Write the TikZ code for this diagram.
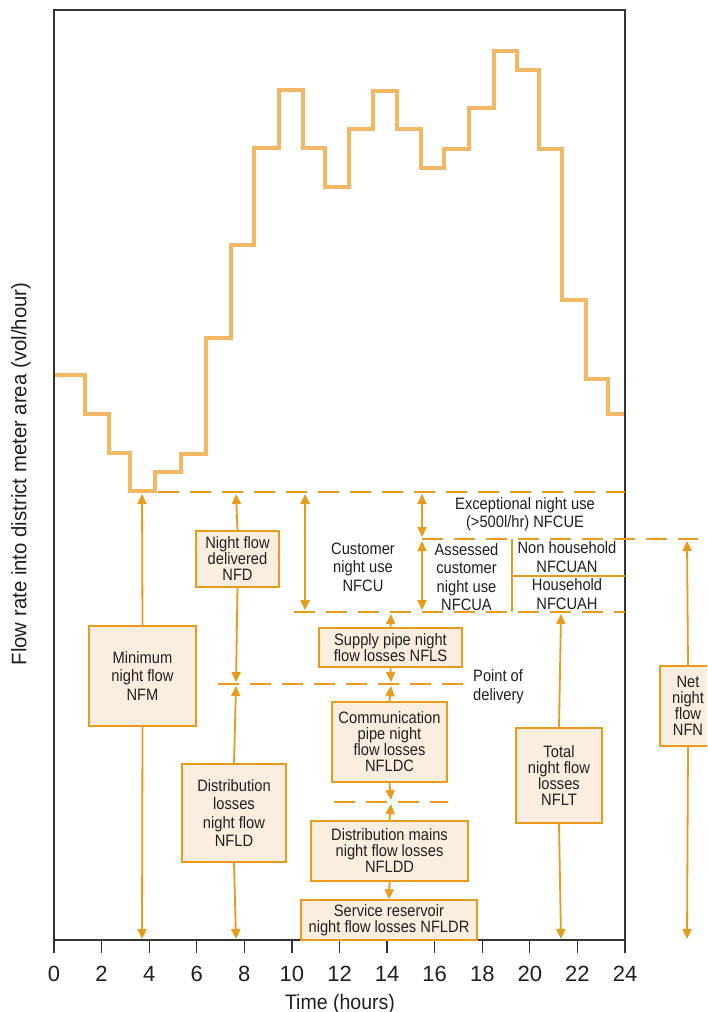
\documentclass[tikz,border=0pt]{standalone}
\usepackage{fontspec}
\setmainfont{Liberation Sans}
\newfontfamily\condfont{Liberation Sans}[FakeStretch=0.89]
\newfontfamily\timefont{Liberation Sans}[FakeStretch=0.93]
\newfontfamily\yfont{Liberation Sans}[FakeStretch=0.97]
\usetikzlibrary{arrows.meta}
\definecolor{curveC}{HTML}{F2B866}
\definecolor{arrC}{HTML}{E99B1C}
\definecolor{boxF}{HTML}{FCEEDF}
\definecolor{txtC}{HTML}{231F20}
\definecolor{frameC}{HTML}{333333}
\tikzset{
  curve/.style={draw=curveC, line width=4pt, line join=miter},
  arr/.style={draw=arrC, line width=1.8pt, -{Triangle[length=10pt,width=9pt]}},
  darr/.style={draw=arrC, line width=1.8pt, {Triangle[length=10pt,width=9pt]}-{Triangle[length=10pt,width=9pt]}},
  dline/.style={draw=arrC, line width=2pt, dash pattern=on 20.5pt off 11.5pt},
  sline/.style={draw=arrC, line width=1.5pt},
  frame/.style={draw=frameC, line width=1.3pt},
  lbl/.style={text=txtC, font=\condfont\fontsize{16.5}{16}\selectfont, align=center, inner sep=0pt},
  lblw/.style={text=txtC, font=\condfont\fontsize{16.5}{18.5}\selectfont, align=center, inner sep=0pt},
  bx/.style={lbl, draw=arrC, line width=1.5pt, fill=boxF},
  bxw/.style={lblw, draw=arrC, line width=1.5pt, fill=boxF},
  ticklbl/.style={text=txtC, font=\fontsize{22}{22}\selectfont, anchor=base, inner sep=0pt}
}
\begin{document}
\begin{tikzpicture}[x=1pt,y=-1pt]
\useasboundingbox (0,0) rectangle (707,1012);
\clip (0,0) rectangle (707,1012);
\fill[white] (0,0) rectangle (707,1012);

% demand curve
\draw[curve] (54,375) -- (85,375) -- (85,414) -- (109,414) -- (109,453) -- (130,453) -- (130,491)
  -- (155,491) -- (155,472) -- (181,472) -- (181,454) -- (206,454) -- (206,338) -- (231,338)
  -- (231,245) -- (254,245) -- (254,148) -- (279,148) -- (279,90) -- (303,90) -- (303,148)
  -- (325,148) -- (325,187) -- (349,187) -- (349,129) -- (373,129) -- (373,91) -- (397,91)
  -- (397,129) -- (421,129) -- (421,168) -- (444,168) -- (444,149) -- (469,149) -- (469,108)
  -- (494,108) -- (494,51) -- (517,51) -- (517,70) -- (539,70) -- (539,149) -- (562,149)
  -- (562,300) -- (586,300) -- (586,379) -- (608,379) -- (608,414) -- (625,414);

% frame and axis
\draw[frame] (54,10) rectangle (625,940);
\foreach \h in {0,2,...,24}{
  \draw[frame] ({54+\h*23.7917},940) -- ++(0,13);
  \node[ticklbl] (t\h) at ({54+\h*23.7917},981) {\h};
}
\node[text=txtC, font=\timefont\fontsize{21}{21}\selectfont, anchor=base, inner sep=0pt] (xlab) at (340,1009) {Time (hours)};
\node[text=txtC, font=\yfont\fontsize{21}{21}\selectfont, rotate=90, inner sep=0pt] (ylab) at (21,474) {Flow rate into district meter area (vol/hour)};

% dashed reference lines
\coordinate (a1) at (158,492); \coordinate (a2) at (625,492);
\coordinate (b1) at (422,539); \coordinate (b2) at (698,539);
\coordinate (c1) at (294,612); \coordinate (c2) at (625,612);
\coordinate (d1) at (218,684); \coordinate (d2) at (463,684);
\coordinate (e1) at (334,802); \coordinate (e2) at (448,802);
\draw[dline] (a1) -- (a2);
\draw[dline] (b1) -- (b2);
\draw[dline] (c1) -- (c2);
\draw[dline] (d1) -- (d2);
\draw[dline] (e1) -- (e2);

% solid dividers
\coordinate (v1) at (512,539); \coordinate (v2) at (512,612);
\coordinate (h1) at (512,576); \coordinate (h2) at (625,576);
\draw[sline] (v1) -- (v2);
\draw[sline] (h1) -- (h2);

% boxes
\node[bxw, minimum width=107pt, minimum height=100pt] (nfm) at (142.5,676) {Minimum\\night flow\\NFM};
\node[bx, minimum width=83pt, minimum height=56pt] (nfd) at (237.5,559) {Night flow\\delivered\\NFD};
\node[bxw, minimum width=104pt, minimum height=98pt] (nfld) at (234,813) {Distribution\\losses\\night flow\\NFLD};
\node[bx, minimum width=143pt, minimum height=39pt] (nfls) at (390.5,647.5) {Supply pipe night\\flow losses NFLS};
\node[bx, minimum width=115pt, minimum height=80pt] (nfldc) at (389.5,742) {Communication\\pipe night\\flow losses\\NFLDC};
\node[bx, minimum width=157pt, minimum height=60pt] (nfldd) at (389.5,851) {Distribution mains\\night flow losses\\NFLDD};
\node[bx, minimum width=176pt, minimum height=40pt] (nfldr) at (389,920) {Service reservoir\\night flow losses NFLDR};
\node[bx, minimum width=86pt, minimum height=95pt] (nflt) at (559,775.5) {Total\\night flow\\losses\\NFLT};
\node[bx, minimum width=56pt, minimum height=80pt] (nfn) at (688,706) {Net\\night\\flow\\NFN};

% free labels
\node[lblw] (nfcu) at (363,567) {Customer\\night use\\NFCU};
\node[lbl, font=\condfont\fontsize{16.5}{18}\selectfont] (nfcue) at (525,514) {Exceptional night use\\(>500l/hr) NFCUE};
\node[lblw] (nfcua) at (466.5,577) {Assessed\\customer\\night use\\NFCUA};
\node[lblw] (nfcuan) at (567,557) {Non household\\NFCUAN};
\node[lblw] (nfcuah) at (567,594) {Household\\NFCUAH};
\node[lbl, font=\condfont\fontsize{16.5}{19}\selectfont, align=left, anchor=west] (pod) at (473,687) {Point of\\delivery};

% arrows
\draw[arr] (nfm.north) -- (142,494);
\draw[arr] (nfm.south) -- (142,939);
\draw[arr] (nfd.north) -- (236,494);
\draw[arr] (nfd.south) -- (236,682);
\draw[arr] (nfld.north) -- (236,686);
\draw[arr] (nfld.south) -- (236,939);
\coordinate (cu1) at (305,494); \coordinate (cu2) at (305,610);
\draw[darr] (cu1) -- (cu2);
\coordinate (ce1) at (422,494); \coordinate (ce2) at (422,537);
\draw[darr] (ce1) -- (ce2);
\coordinate (ca1) at (422,541); \coordinate (ca2) at (422,610);
\draw[darr] (ca1) -- (ca2);
\draw[arr] (nfls.north) -- (391,614);
\draw[arr] (nfls.south) -- (391,682);
\draw[arr] (nfldc.north) -- (391,686);
\draw[arr] (nfldc.south) -- (391,800);
\draw[arr] (nfldd.north) -- (391,804);
\draw[arr] (nfldd.south) -- (nfldr.north);
\draw[arr] (nflt.north) -- (561,614);
\draw[arr] (nflt.south) -- (561,939);
\draw[arr] (nfn.north) -- (687,541);
\draw[arr] (nfn.south) -- (687,939);
\end{tikzpicture}
\end{document}
